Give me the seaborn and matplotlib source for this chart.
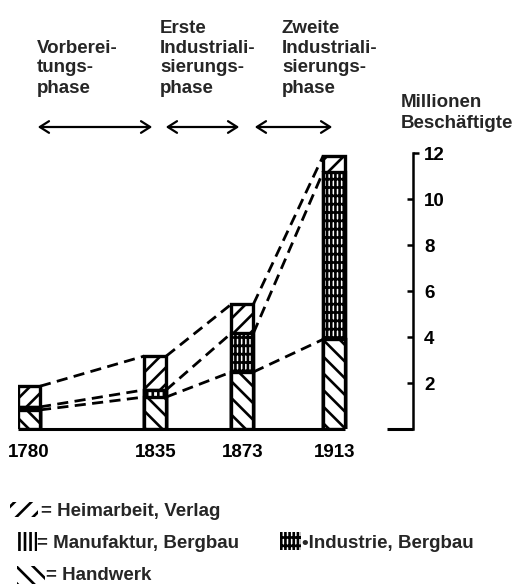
import numpy as np
import pandas as pd
import matplotlib
matplotlib.use("Agg")
import matplotlib.pyplot as plt
from matplotlib.patches import Rectangle, FancyArrowPatch
from matplotlib.lines import TICKRIGHT
import seaborn as sns

# ---- data (millions employed) ----
years = [1780, 1835, 1873, 1913]
handwerk = [0.83, 1.39, 2.48, 3.90]
manufaktur = [0.13, 0.31, 0.0, 0.0]
industrie = [0.0, 0.0, 1.69, 7.29]
heimarbeit = [0.90, 1.47, 1.26, 0.69]
ytick_vals = [2, 4, 6, 8, 10, 12]
phase_labels = [["Vorberei-", "tungs-", "phase"],
                ["Erste", "Industriali-", "sierungs-", "phase"],
                ["Zweite", "Industriali-", "sierungs-", "phase"]]
legend_labels = ["= Heimarbeit, Verlag", "= Manufaktur, Bergbau",
                 "\u2022Industrie, Bergbau", "= Handwerk"]
unit_label = ["Millionen", "Beschäftigte"]

df = pd.DataFrame({"year": years, "handwerk": handwerk, "manufaktur": manufaktur,
                   "industrie": industrie, "heimarbeit": heimarbeit})
df["c_hand"] = df["handwerk"]
df["c_manu"] = df["c_hand"] + df["manufaktur"]
df["c_ind"] = df["c_manu"] + df["industrie"]
df["c_total"] = df["c_ind"] + df["heimarbeit"]

sns.set_style("white")
plt.rcParams["font.family"] = ["Liberation Sans", "DejaVu Sans"]
plt.rcParams["font.weight"] = "bold"
plt.rcParams["hatch.linewidth"] = 1.9

W_FIG, H_FIG = 516, 587
fig = plt.figure(figsize=(W_FIG / 100, H_FIG / 100), dpi=100)
fig.patch.set_facecolor("white")

# axes placed in pixel layout
ax_left, ax_right, ax_top, ax_bottom = 18, 413, 153, 429
ax = fig.add_axes([ax_left / W_FIG, 1 - ax_bottom / H_FIG,
                   (ax_right - ax_left) / W_FIG, (ax_bottom - ax_top) / H_FIG])
ax.set_facecolor("white")

PX = 2.295          # pixels per year
first_px = 29       # pixel x of first year
xmin = years[0] - (first_px - ax_left) / PX
xmax = years[0] + (ax_right - first_px) / PX
bar_w = 22 / PX     # bar width in years
width_param = bar_w / np.min(np.diff(years))

layers = [("c_total", "//"), ("c_ind", "||||--"), ("c_manu", "|||"), ("c_hand", "\\\\")]
for col, hatch in layers:
    sns.barplot(data=df, x="year", y=col, native_scale=True, width=width_param,
                color="white", saturation=1, edgecolor="black", linewidth=2.4,
                hatch=hatch, errorbar=None, ax=ax, zorder=3)

# dashed connecting lines between bar edges
for col in ["c_total", "c_ind", "c_hand"]:
    s = df[col].to_numpy()
    for i in range(len(years) - 1):
        ax.plot([years[i] + bar_w / 2, years[i + 1] - bar_w / 2], [s[i], s[i + 1]],
                color="black", lw=2.0, ls=(0, (4, 2.3)), zorder=2, solid_capstyle="butt")

# baseline
ax.plot([years[0] - bar_w / 2, years[-1] + bar_w / 2], [0, 0], color="black", lw=2.2,
        zorder=4, clip_on=False, solid_capstyle="butt")
ax.plot([xmax - 26 / PX, xmax], [0, 0], color="black", lw=2.2, clip_on=False,
        solid_capstyle="butt")

ax.set_xlim(xmin, xmax)
ax.set_ylim(0, 12)
ax.set_xlabel("")
ax.set_ylabel("")
for sp in ["left", "top", "bottom"]:
    ax.spines[sp].set_visible(False)
ax.spines["right"].set_visible(True)
ax.spines["right"].set_linewidth(1.8)
ax.spines["right"].set_color("black")

FS = 13.5
ax.set_xticks(years)
ax.set_xticklabels([str(y) for y in years])
ax.yaxis.set_ticks_position("right")
ax.set_yticks(ytick_vals)
ax.set_yticklabels([str(v) for v in ytick_vals])
ax.tick_params(axis="x", direction="out", length=3, width=1.8, pad=8,
               labelsize=FS, colors="black")
ax.tick_params(axis="y", direction="in", length=4, width=1.8, pad=8,
               labelsize=FS, colors="black", left=False, right=True,
               labelleft=False, labelright=True)
for lbl in ax.get_xticklabels() + ax.get_yticklabels():
    lbl.set_fontweight("bold")
ax.yaxis.get_major_ticks()[-1].tick2line.set_marker(TICKRIGHT)

def fx(px):
    return px / W_FIG

def fy(py):
    return 1 - py / H_FIG

# phase labels
col_x = [37, 160, 282]
baselines = [33, 53, 72, 93]
for lines, x in zip(phase_labels, col_x):
    bl = baselines[len(baselines) - len(lines):]
    for t, b in zip(lines, bl):
        fig.text(fx(x), fy(b), t, fontsize=FS, fontweight="bold", va="baseline", ha="left")

# phase arrows
for x0, x1 in [(35, 155), (163, 242), (252, 335)]:
    fig.add_artist(FancyArrowPatch((fx(x0), fy(127)), (fx(x1), fy(127)),
                                   transform=fig.transFigure,
                                   arrowstyle="<->,head_length=0.55,head_width=0.35",
                                   mutation_scale=12, lw=1.6, color="black"))

# unit label
for t, b in zip(unit_label, [107, 128]):
    fig.text(fx(401), fy(b), t, fontsize=FS, fontweight="bold", va="baseline", ha="left")

# legend
leg_items = [
    ((10, 502, 28, 15), "//", (41, 516), legend_labels[0]),
    ((16, 532, 21, 19), "|||", (37, 548), legend_labels[1]),
    ((280, 532, 21, 18), "||||--", (302, 548), legend_labels[2]),
    ((17, 566, 28, 18), "\\\\", (46, 580), legend_labels[3]),
]
for (x, y, w, h), hatch, (tx, ty), lab in leg_items:
    fig.add_artist(Rectangle((fx(x), fy(y + h)), w / W_FIG, h / H_FIG,
                             transform=fig.transFigure, facecolor="white",
                             edgecolor="black", linewidth=0, hatch=hatch))
    fig.text(fx(tx), fy(ty), lab, fontsize=FS, fontweight="bold", va="baseline", ha="left")

fig.savefig("out.png", dpi=100, facecolor="white")
